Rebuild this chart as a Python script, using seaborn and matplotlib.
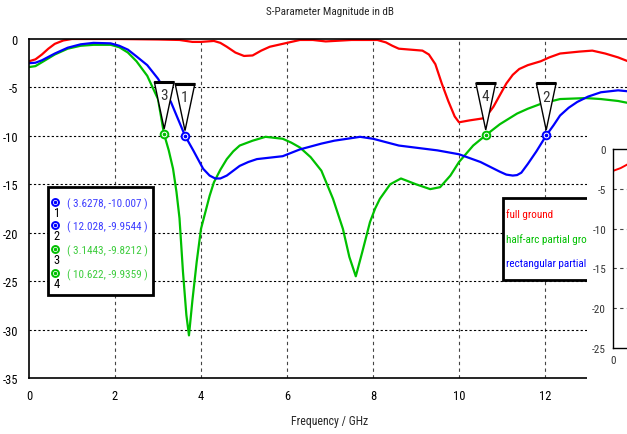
import numpy as np
import pandas as pd
import matplotlib
matplotlib.use("Agg")
import matplotlib.pyplot as plt
from matplotlib import font_manager
from matplotlib.patches import Rectangle, Polygon
import seaborn as sns

# ── data ──────────────────────────────────────────────────
full_f = [0, 0.15, 0.3, 0.45, 0.6, 0.8, 1.0, 1.2, 2.0, 3.0, 3.5, 3.8, 4.0, 4.3, 4.45,
          4.6, 4.8, 5.0, 5.2, 5.4, 5.6, 5.9, 6.3, 6.6, 6.9, 7.5, 8.1, 8.3, 8.45, 8.6,
          9.15, 9.3, 9.45, 9.6, 9.75, 9.9, 10.0, 10.25, 10.55, 10.65, 10.8, 10.95, 11.1,
          11.25, 11.4, 11.6, 11.9, 12.1, 12.35, 12.8, 13.1, 13.4, 13.7, 13.93]
full_db = [-2.3, -2.1, -1.6, -1.0, -0.5, -0.15, 0.0, 0.0, 0.0, -0.05, -0.1, -0.3, -0.3,
           -0.2, -0.4, -0.8, -1.4, -1.75, -1.7, -1.2, -0.8, -0.5, -0.1, -0.1, -0.25,
           -0.1, -0.1, -0.35, -0.7, -1.0, -1.2, -1.6, -2.6, -4.6, -6.4, -8.0, -8.6,
           -8.4, -8.2, -7.9, -7.0, -5.8, -4.6, -3.7, -3.1, -2.7, -2.3, -1.9, -1.5, -1.3,
           -1.2, -1.5, -1.9, -2.3]

rect_f = [0, 0.15, 0.3, 0.45, 0.6, 0.9, 1.2, 1.5, 1.9, 2.1, 2.3, 2.5, 2.75, 3.0, 3.15,
          3.3, 3.45, 3.63, 3.82, 4.05, 4.2, 4.33, 4.45, 4.6, 4.75, 4.9, 5.1, 5.3, 5.9,
          6.3, 6.8, 7.1, 7.7, 8.0, 8.6, 9.5, 10.0, 10.5, 10.95, 11.1, 11.25, 11.35,
          11.45, 11.6, 11.8, 12.03, 12.2, 12.35, 12.55, 12.75, 13.0, 13.3, 13.7, 13.93]
rect_db = [-2.5, -2.45, -2.2, -1.85, -1.5, -0.9, -0.55, -0.4, -0.45, -0.7, -1.1, -1.8,
           -2.7, -4.1, -5.2, -6.5, -8.1, -10.0, -11.5, -13.4, -14.1, -14.4, -14.4,
           -14.1, -13.6, -13.1, -12.7, -12.4, -12.1, -11.4, -10.8, -10.5, -10.1, -10.3,
           -11.0, -11.5, -11.9, -12.7, -13.7, -14.0, -14.1, -14.05, -13.8, -12.9,
           -11.6, -9.95, -8.9, -7.9, -7.1, -6.5, -5.95, -5.5, -5.3, -5.4]

arc_f = [0, 0.15, 0.3, 0.45, 0.6, 0.9, 1.2, 1.5, 1.9, 2.1, 2.3, 2.5, 2.75, 3.0, 3.14,
         3.25, 3.35, 3.43, 3.5, 3.58, 3.66, 3.72, 3.8, 3.9, 4.0, 4.1, 4.2, 4.3, 4.45,
         4.6, 4.75, 4.9, 5.2, 5.5, 5.9, 6.1, 6.3, 6.55, 6.8, 7.07, 7.3, 7.45, 7.6, 7.75,
         7.93, 8.05, 8.16, 8.4, 8.65, 9.0, 9.33, 9.56, 9.8, 10.0, 10.33, 10.62, 10.95,
         11.35, 11.6, 11.9, 12.35, 12.95, 13.3, 13.7, 13.93]
arc_db = [-2.9, -2.8, -2.4, -2.0, -1.6, -1.0, -0.7, -0.6, -0.6, -0.85, -1.4, -2.3,
          -3.8, -6.2, -9.8, -11.5, -13.4, -15.8, -18.5, -24.0, -28.5, -30.6, -27.0,
          -23.0, -19.6, -17.9, -16.2, -14.8, -13.5, -12.4, -11.6, -11.0, -10.5, -10.1,
          -10.3, -10.7, -11.2, -12.2, -13.6, -16.5, -19.6, -22.5, -24.5, -22.0, -18.9,
          -17.5, -16.5, -15.0, -14.4, -15.0, -15.5, -15.3, -14.1, -12.7, -11.0, -9.94,
          -8.8, -7.7, -7.2, -6.7, -6.2, -6.1, -6.2, -6.4, -6.6]

series_names = ["full ground", "half-arc partial ground", "rectangular partial ground"]
series_colors = ["#ff0000", "#00c000", "#0000ff"]

marker_ids = ["1", "2", "3", "4"]
marker_f = [3.6278, 12.028, 3.1443, 10.622]
marker_db = [-10.007, -9.9544, -9.8212, -9.9359]
marker_colors = ["#0000ff", "#0000ff", "#00c000", "#00c000"]
marker_text_colors = ["#3c3cff", "#3c3cff", "#3ccc3c", "#3ccc3c"]

inset_f = [0, 0.19, 0.375]
inset_db = [-2.75, -2.4, -1.9]

df = pd.concat([
    pd.DataFrame({"f": full_f, "db": full_db, "s": series_names[0]}),
    pd.DataFrame({"f": arc_f, "db": arc_db, "s": series_names[1]}),
    pd.DataFrame({"f": rect_f, "db": rect_db, "s": series_names[2]}),
])

sns.set_style("white")
# pick a narrow face if one is around, else Liberation Sans
installed = {f.name for f in font_manager.fontManager.ttflist}
narrow = [n for n in ["Liberation Sans Narrow", "Roboto Condensed", "Open Sans Condensed",
                      "Noto Sans Condensed", "DejaVu Sans Condensed"] if n in installed]
plt.rcParams['font.family'] = narrow[:1] + ['Liberation Sans', 'DejaVu Sans']
plt.rcParams['axes.unicode_minus'] = False
fs = 8 if narrow else 7.5

W, H = 627, 435
fig = plt.figure(figsize=(W / 100, H / 100), dpi=100)


def fx(px):
    return px / W


def fy(py):
    return 1 - py / H


ax = fig.add_axes([fx(29), fy(379), (631 - 29) / W, (379 - 40) / H])
sns.lineplot(data=df, x="f", y="db", hue="s", palette=series_colors,
             hue_order=series_names, sort=False, lw=1.6, legend=False, ax=ax)
ax.set_xlim(0, 14)
ax.set_ylim(-35, 0)
ax.set_xticks(range(0, 13, 2))
ax.set_yticks(range(-35, 1, 5))
ax.set_xlabel("")
ax.set_ylabel("")
ax.tick_params(labelsize=fs + 1, length=3, direction="out", colors="black", pad=5)
for sp in ["left", "bottom", "top"]:
    ax.spines[sp].set_color("black")
    ax.spines[sp].set_linewidth(1.2)
ax.spines["right"].set_visible(False)
for v in range(2, 13, 2):
    ax.axvline(v, color="#444444", lw=0.8, ls=(0, (3, 3)), zorder=0.5)
for h in range(-30, 0, 5):
    ax.axhline(h, color="black", lw=0.8, ls=(0, (2, 2)), zorder=0.5)

# marker triangles and circles
tw = 0.23
for mid, mf, md, mc in zip(marker_ids, marker_f, marker_db, marker_colors):
    top = md + 5.4
    tip = md + 0.55
    ax.add_patch(Polygon([[mf - tw, top], [mf + tw, top], [mf, tip]], closed=True,
                         facecolor="white", edgecolor="black", lw=1.0, zorder=5))
    ax.plot([mf - tw, mf + tw], [top, top], color="black", lw=2.2, zorder=6,
            solid_capstyle="butt")
    ax.text(mf, md + 4.0, mid, ha="center", va="center", fontsize=fs + 3,
            color="#333333", zorder=7)
    ax.plot(mf, md, "o", ms=5.5, mfc="white", mec=mc, mew=1.4, zorder=8)
    ax.plot(mf, md, "o", ms=1.6, color=mc, zorder=9)

# marker readout box
fig.patches.append(Rectangle((fx(48), fy(296)), fx(153) - fx(48), fy(188) - fy(296),
                             transform=fig.transFigure, facecolor="white",
                             edgecolor="black", lw=2, zorder=3))
rows_y = [204, 227, 251, 275]
for mid, mf, md, mc, tc, ry in zip(marker_ids, marker_f, marker_db, marker_colors,
                                    marker_text_colors, rows_y):
    fig.add_artist(plt.Line2D([fx(55)], [fy(ry - 1)], marker="o", ms=5, mfc="white",
                              mec=mc, mew=1.4, transform=fig.transFigure, zorder=4))
    fig.add_artist(plt.Line2D([fx(55)], [fy(ry - 1)], marker="o", ms=1.5, color=mc,
                              transform=fig.transFigure, zorder=4))
    fig.text(fx(57), fy(ry + 10), mid, fontsize=fs + 1, ha="center", va="center",
             color="black", zorder=4)
    fig.text(fx(67), fy(ry), f"( {mf:g}, {md:g} )", fontsize=fs, ha="left",
             va="center", color=tc, zorder=4)

# series legend box (cut off by the overlapping window)
fig.patches.append(Rectangle((fx(503), fy(281)), fx(640) - fx(503), fy(199) - fy(281),
                             transform=fig.transFigure, facecolor="white",
                             edgecolor="black", lw=2, zorder=3))
for name, col, ty in zip(series_names, series_colors, [215, 240, 264]):
    fig.text(fx(506), fy(ty), name, fontsize=fs, ha="left", va="center",
             color=col, zorder=4)

# overlapping second window
fig.patches.append(Rectangle((fx(587), fy(385)), fx(640) - fx(587), fy(133) - fy(385),
                             transform=fig.transFigure, facecolor="white",
                             edgecolor="none", zorder=5))
ax2 = fig.add_axes([fx(613), fy(349), 100 / W, (349 - 150) / H], zorder=6)
ax2.plot(inset_f, inset_db, color="#ff0000", lw=1.4)
ax2.set_xlim(0, 2.5)
ax2.set_ylim(-25, 0)
ax2.set_xticks([0])
ax2.set_yticks(range(-25, 1, 5))
ax2.tick_params(labelsize=fs, length=3, pad=2, colors="#333333")
ax2.patch.set_alpha(0)
for sp in ["left", "bottom", "top"]:
    ax2.spines[sp].set_color("black")
    ax2.spines[sp].set_linewidth(1.0)
ax2.spines["right"].set_visible(False)
for h in range(-20, 0, 5):
    ax2.axhline(h, color="#444444", lw=0.8, ls=(0, (3, 3)))

fig.text(fx(330), fy(12), "S-Parameter Magnitude in dB", fontsize=fs,
         ha="center", va="center")
fig.text(fx(330), fy(422), "Frequency / GHz", fontsize=fs + 0.5, ha="center",
         va="center")

fig.savefig("out.png", dpi=100)
